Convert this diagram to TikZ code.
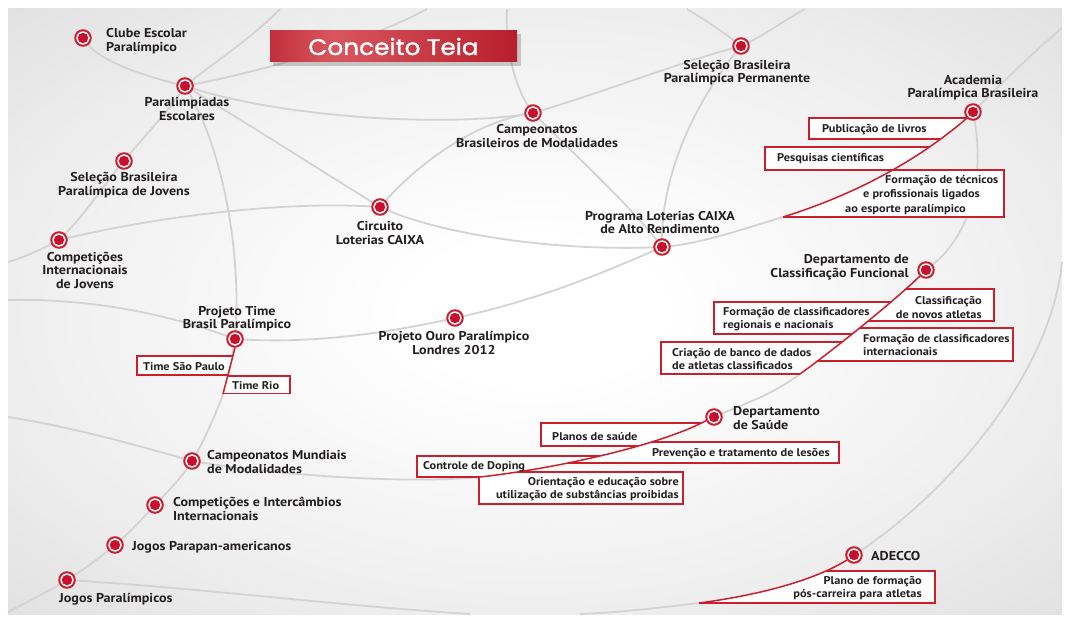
\documentclass[tikz,border=0pt]{standalone}
\usepackage{fontspec}
\setmainfont{PT Sans}[FakeStretch=1.1]
\newfontfamily\titlefont{Poppins}[FakeStretch=1.1, FakeBold=1.5]
\usetikzlibrary{calc}
\definecolor{tred}{HTML}{CC1F2E}
\definecolor{tdot}{HTML}{C8102E}
\definecolor{webgray}{HTML}{D3D3D3}
\definecolor{tdark}{HTML}{231F20}
\definecolor{bgmid}{HTML}{EEEEEE}
\definecolor{bgedge}{HTML}{E1E1E1}
\definecolor{ban1}{HTML}{C2303A}
\definecolor{ban2}{HTML}{D9565F}
\definecolor{ban3}{HTML}{B81E2B}
\pgfdeclareradialshading{bgshade}{\pgfpoint{0bp}{0bp}}{color(0bp)=(white); color(6bp)=(white); color(25bp)=(bgmid); color(36bp)=(bgedge); color(50bp)=(bgedge)}
\pgfdeclarehorizontalshading{banshade}{100bp}{color(0bp)=(ban1); color(25bp)=(ban1); color(38bp)=(ban2); color(75bp)=(ban3); color(100bp)=(ban3)}
\newcommand\lblfont{\fontsize{12.8}{13.5}\selectfont\bfseries}
\newcommand\bxfont{\fontsize{11.2}{13.5}\selectfont\bfseries}
\pgfdeclarelayer{bgl}
\pgfdeclarelayer{webl}
\pgfdeclarelayer{boxl}
\pgfdeclarelayer{calll}
\pgfsetlayers{bgl,webl,boxl,calll,main}
\tikzset{
  web/.style={draw=webgray, line width=1.8pt},
  callout/.style={draw=tred, line width=1.5pt},
  boxline/.style={draw=tred, line width=1.1pt, fill=white},
  marker/.style={circle, draw=tred, line width=2pt, fill=white, minimum size=15.5pt, inner sep=0pt,
    path picture={\fill[tdot] (path picture bounding box.center) circle (5.2pt);}},
  lbl/.style={font=\lblfont, text=tdark, inner sep=0pt, align=center},
  bxt/.style={font=\bxfont, text=tdark, inner sep=0pt},
}
\begin{document}
\begin{tikzpicture}[x=1pt,y=-1pt]
\useasboundingbox (0,0) rectangle (1066,618);
% ---------- markers ----------
\node[marker] (clube) at (83,38) {};
\node[marker] (para) at (185,86) {};
\node[marker] (selj) at (124,161) {};
\node[marker] (compj) at (59,240) {};
\node[marker] (circ) at (380,207) {};
\node[marker] (camb) at (533,113) {};
\node[marker] (selp) at (741,46) {};
\node[marker] (acad) at (973,112) {};
\node[marker] (prog) at (662,247) {};
\node[marker] (dcl) at (926,270) {};
\node[marker] (ptime) at (235,339) {};
\node[marker] (ouro) at (455,318) {};
\node[marker] (sau) at (714,417) {};
\node[marker] (cmun) at (192,461) {};
\node[marker] (cint) at (155,505) {};
\node[marker] (parap) at (115,545) {};
\node[marker] (jpar) at (67,580) {};
\node[marker] (adec) at (854,555) {};
% ---------- free end points ----------
\coordinate (t1) at (280,9);
\coordinate (t2) at (427,9);
\coordinate (t3) at (507,9);
\coordinate (t4) at (687,9);
\coordinate (t5) at (805,9);
\coordinate (t6) at (1062,28);
\coordinate (r1) at (1062,262);
\coordinate (l1) at (8,262);
\coordinate (l2) at (8,300);
\coordinate (l3) at (8,417);
\coordinate (l4) at (8,612);
\coordinate (b1) at (470,614);
\coordinate (b2) at (580,614);
% callout curves
\coordinate (A0) at (acad.225);
\coordinate (A1) at (930,150);
\coordinate (A2) at (870,190);
\coordinate (A3) at (783,217);
\coordinate (K0) at (dcl.225);
\coordinate (K1) at (895,300);
\coordinate (K2) at (840,345);
\coordinate (K3) at (800,374);
\coordinate (S0) at (sau.205);
\coordinate (S1) at (660,445);
\coordinate (S2) at (560,468);
\coordinate (S3) at (480,477);
\coordinate (D0) at (adec.215);
\coordinate (D1) at (815,580);
\coordinate (D2) at (760,595);
\coordinate (D3) at (699,603);
\coordinate (T0) at (ptime.south);
\coordinate (T3) at (223,394);
% ---------- background ----------
\begin{pgfonlayer}{bgl}
\fill[white] (0,0) rectangle (1066,618);
\shade[shading=bgshade] (8,9) rectangle (1062,614);
\end{pgfonlayer}
% ---------- web ----------
\begin{pgfonlayer}{webl}
\draw[web] (t1) .. controls (250,40) and (210,65) .. (para.center);
\draw[web] (para.center) .. controls (170,110) and (145,135) .. (selj.center);
\draw[web] (selj.center) .. controls (100,190) and (85,215) .. (compj.center);
\draw[web] (compj.center) .. controls (40,250) and (25,257) .. (l1);
\draw[web] (clube.center) .. controls (95,60) and (140,75) .. (para.center);
\draw[web] (para.center) .. controls (280,118) and (450,128) .. (camb.center);
\draw[web] (camb.center) .. controls (610,90) and (680,62) .. (selp.center);
\draw[web] (selp.center) .. controls (765,35) and (785,20) .. (t5);
\draw[web] (para.center) .. controls (270,70) and (370,40) .. (t2);
\draw[web] (para.center) .. controls (250,125) and (320,170) .. (circ.center);
\draw[web] (compj.center) .. controls (150,218) and (280,200) .. (circ.center);
\draw[web] (circ.center) .. controls (420,160) and (480,120) .. (camb.center);
\draw[web] (circ.center) .. controls (440,235) and (560,252) .. (prog.center);
\draw[web] (t3) .. controls (505,50) and (515,90) .. (camb.center);
\draw[web] (camb.center) .. controls (580,160) and (630,205) .. (prog.center);
\draw[web] (t4) .. controls (705,20) and (725,33) .. (selp.center);
\draw[web] (selp.center) .. controls (700,95) and (660,170) .. (prog.center);
\draw[web] (prog.center) .. controls (700,244) and (740,230) .. (A3);
\draw[web] (acad.center) .. controls (1000,85) and (1030,55) .. (t6);
\draw[web] (acad.center) .. controls (985,170) and (975,235) .. (dcl.center);
\draw[web] (K3) .. controls (770,396) and (748,402) .. (sau.center);
\draw[web] (S3) .. controls (410,484) and (280,476) .. (cmun.center);
\draw[web] (cmun.center) .. controls (120,440) and (60,425) .. (l3);
\draw[web] (para.center) .. controls (225,150) and (242,260) .. (ptime.center);
\draw[web] plot[smooth, tension=0.6] coordinates {(ptime.center) (T3) (cmun.center) (cint.center) (parap.center) (jpar.center) (l4)};
\draw[web] (l2) .. controls (100,298) and (180,318) .. (ptime.center);
\draw[web] (ptime.center) .. controls (320,345) and (400,330) .. (ouro.center);
\draw[web] (ouro.center) .. controls (540,300) and (610,270) .. (prog.center);
\draw[web] (jpar.center) .. controls (200,588) and (330,605) .. (b1);
\draw[web] (r1) .. controls (1050,380) and (940,500) .. (adec.center);
\draw[web] (D3) .. controls (650,609) and (610,613) .. (b2);
\end{pgfonlayer}
% ---------- title banner ----------
\begin{pgfonlayer}{webl}
\fill[black, opacity=0.18] (273,34) rectangle (521,66);
\shade[shading=banshade] (270,31) rectangle (517,62);
\end{pgfonlayer}
\node[font=\titlefont\fontsize{22.5}{22.5}\selectfont, text=white, inner sep=0pt] (title) at (393.5,46.5) {Conceito Teia};
% ---------- boxes ----------
\begin{pgfonlayer}{boxl}
% Academia
\begin{scope}
\clip (0,0) -- (A0 |- 0,0) -- (A0) .. controls (A1) and (A2) .. (A3) -- (A3 |- 0,618) -- (0,618) -- cycle;
\draw[boxline] (809,118) rectangle (1010,139);
\draw[boxline] (765,147) rectangle (1010,170);
\end{scope}
\begin{scope}
\clip (1066,0) -- (A0 |- 0,0) -- (A0) .. controls (A1) and (A2) .. (A3) -- (A3 |- 0,618) -- (1066,618) -- cycle;
\draw[boxline] (700,170) rectangle (1004,217);
\end{scope}
% Classificacao
\begin{scope}
\clip (0,0) -- (K0 |- 0,0) -- (K0) .. controls (K1) and (K2) .. (K3) -- (K3 |- 0,618) -- (0,618) -- cycle;
\draw[boxline] (714,302) rectangle (1000,334);
\draw[boxline] (661,342) rectangle (1000,374);
\end{scope}
\begin{scope}
\clip (1066,0) -- (K0 |- 0,0) -- (K0) .. controls (K1) and (K2) .. (K3) -- (K3 |- 0,618) -- (1066,618) -- cycle;
\draw[boxline] (700,289) rectangle (994,321);
\draw[boxline] (700,328) rectangle (1013,361);
\end{scope}
% Saude
\begin{scope}
\clip (0,0) -- (S0 |- 0,0) -- (S0) .. controls (S1) and (S2) .. (S3) -- (S3 |- 0,618) -- (0,618) -- cycle;
\draw[boxline] (541,423) rectangle (720,446);
\draw[boxline] (417,456) rectangle (720,477);
\end{scope}
\begin{scope}
\clip (1066,0) -- (S0 |- 0,0) -- (S0) .. controls (S1) and (S2) .. (S3) -- (470,477) -- (470,618) -- (1066,618) -- cycle;
\draw[boxline] (470,442) rectangle (839,463);
\draw[boxline] (479,472) rectangle (683,504);
\end{scope}
% ADECCO
\begin{scope}
\clip (1066,0) -- (D0 |- 0,0) -- (D0) .. controls (D1) and (D2) .. (D3) -- (D3 |- 0,618) -- (1066,618) -- cycle;
\draw[boxline] (690,571) rectangle (935,603);
\end{scope}
% Projeto Time
\begin{scope}
\clip (0,0) -- (T0 |- 0,0) -- (T0) -- (T3) -- (T3 |- 0,618) -- (0,618) -- cycle;
\draw[boxline] (137,356) rectangle (260,375);
\end{scope}
\begin{scope}
\clip (1066,0) -- (T0 |- 0,0) -- (T0) -- (T3) -- (T3 |- 0,618) -- (1066,618) -- cycle;
\draw[boxline] (200,376) rectangle (290,393.5);
\end{scope}
\end{pgfonlayer}
% ---------- red callouts ----------
\begin{pgfonlayer}{calll}
\draw[callout] (A0) .. controls (A1) and (A2) .. (A3);
\draw[callout] (K0) .. controls (K1) and (K2) .. (K3);
\draw[callout] (S0) .. controls (S1) and (S2) .. (S3);
\draw[callout] (D0) .. controls (D1) and (D2) .. (D3);
\draw[callout] (T0) -- (T3);
\end{pgfonlayer}
% ---------- labels ----------
\node[lbl, anchor=west, align=left] (lclube) at (106,41) {Clube Escolar\\Paralímpico};
\node[lbl] (lpara) at (187,109) {Paralimpíadas\\Escolares};
\node[lbl] (lselj) at (124,185) {Seleção Brasileira\\Paralímpica de Jovens};
\node[lbl] (lcompj) at (85,270) {Competições\\Internacionais\\de Jovens};
\node[lbl] (lcirc) at (380,233) {Circuito\\Loterias CAIXA};
\node[lbl] (lcamb) at (537,136) {Campeonatos\\Brasileiros de Modalidades};
\node[lbl] (lselp) at (737,72.5) {Seleção Brasileira\\Paralímpica Permanente};
\node[lbl] (lacad) at (973,87.5) {Academia\\Paralímpica Brasileira};
\node[lbl] (lprog) at (660,222.5) {Programa Loterias CAIXA\\de Alto Rendimento};
\node[lbl, anchor=east, align=right] (ldcl) at (909,267.5) {Departamento de\\Classificação Funcional};
\node[lbl] (lptime) at (237,318.5) {Projeto Time\\Brasil Paralímpico};
\node[lbl] (louro) at (454,343) {Projeto Ouro Paralímpico\\Londres 2012};
\node[lbl, anchor=west, align=left] (lsau) at (733,418) {Departamento\\de Saúde};
\node[lbl, anchor=west, align=left] (lcmun) at (207,462) {Campeonatos Mundiais\\de Modalidades};
\node[lbl, anchor=west, align=left] (lcint) at (173,509) {Competições e Intercâmbios\\Internacionais};
\node[lbl, anchor=west] (lparap) at (132,547) {Jogos Parapan-americanos};
\node[lbl, anchor=west] (ljpar) at (59,599) {Jogos Paralímpicos};
\node[lbl, anchor=west] (ladec) at (871,556) {ADECCO};
% ---------- box texts ----------
\node[bxt, anchor=west] (xliv) at (822,130) {Publicação de livros};
\node[bxt, anchor=west] (xpesq) at (777,159) {Pesquisas científicas};
\node[bxt, anchor=west] (xft1) at (885,181) {Formação de técnicos};
\node[bxt, anchor=west] (xft2) at (863,195) {e profissionais ligados};
\node[bxt, anchor=west] (xft3) at (845,210) {ao esporte paralímpico};
\node[bxt, anchor=east, align=right] (xcla) at (982,307.5) {Classificação\\de novos atletas};
\node[bxt, anchor=west, align=left] (xreg) at (723,319) {Formação de classificadores\\regionais e nacionais};
\node[bxt, anchor=west, align=left] (xint) at (863,345) {Formação de classificadores\\internacionais};
\node[bxt, anchor=west, align=left] (xcri) at (672,359) {Criação de banco de dados\\de atletas classificados};
\node[bxt, anchor=west] (xpla) at (552,437) {Planos de saúde};
\node[bxt, anchor=west] (xpre) at (652,454) {Prevenção e tratamento de lesões};
\node[bxt, anchor=west] (xdop) at (423,467) {Controle de Doping};
\node[bxt, anchor=east, align=right] (xori) at (679,489) {Orientação e educação sobre\\utilização de substâncias proibidas};
\node[bxt, anchor=east, align=right] (xpfc) at (922,588) {Plano de formação\\pós-carreira para atletas};
\node[bxt, anchor=west] (xtsp) at (143,367) {Time São Paulo};
\node[bxt, anchor=west] (xtrio) at (232,386) {Time Rio};
\end{tikzpicture}
\end{document}
